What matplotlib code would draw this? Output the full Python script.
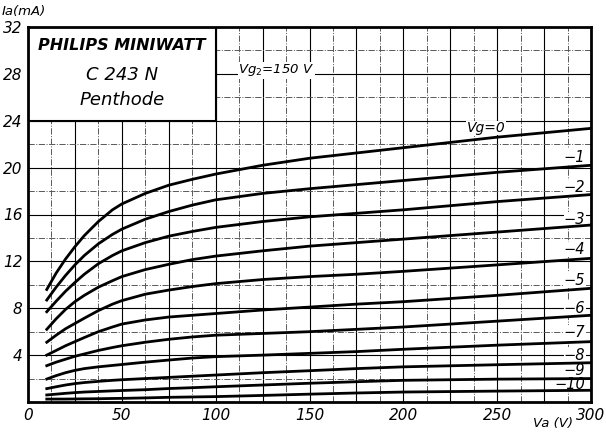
import numpy as np
import matplotlib
matplotlib.use('Agg')
from matplotlib import pyplot as plt

# anode characteristic of the C243N pentode
va = [10, 15, 20, 25, 30, 37.5, 45, 50, 62.5, 75, 87.5, 100, 125, 150, 175, 200, 250, 300]

ia_vg0 = [9.6, 11.0, 12.2, 13.25, 14.2, 15.4, 16.4, 16.9, 17.8, 18.5, 19.0, 19.45, 20.2, 20.8, 21.25, 21.7, 22.6, 23.35]
ia_vg1 = [8.7, 9.8, 10.8, 11.7, 12.5, 13.5, 14.3, 14.75, 15.6, 16.25, 16.8, 17.25, 17.8, 18.2, 18.55, 18.9, 19.6, 20.2]
ia_vg2 = [7.7, 8.6, 9.45, 10.2, 10.9, 11.8, 12.5, 12.9, 13.6, 14.15, 14.55, 14.9, 15.4, 15.8, 16.1, 16.4, 17.1, 17.7]
ia_vg3 = [6.2, 7.1, 7.9, 8.56, 9.1, 9.8, 10.35, 10.7, 11.3, 11.75, 12.15, 12.45, 12.9, 13.3, 13.6, 13.9, 14.5, 15.1]
ia_vg4 = [5.1, 5.7, 6.25, 6.7, 7.15, 7.8, 8.35, 8.65, 9.2, 9.55, 9.85, 10.1, 10.45, 10.7, 10.9, 11.15, 11.7, 12.26]
ia_vg5 = [4.0, 4.4, 4.8, 5.15, 5.5, 6.0, 6.4, 6.65, 7.0, 7.25, 7.4, 7.55, 7.85, 8.1, 8.35, 8.56, 9.1, 9.7]
ia_vg6 = [3.1, 3.4, 3.65, 3.9, 4.1, 4.4, 4.65, 4.8, 5.1, 5.35, 5.55, 5.7, 5.85, 6.0, 6.2, 6.4, 6.9, 7.4]
ia_vg7 = [1.96, 2.25, 2.5, 2.7, 2.85, 3.0, 3.12, 3.2, 3.4, 3.58, 3.75, 3.87, 4.0, 4.15, 4.3, 4.5, 4.85, 5.15]
ia_vg8 = [1.14, 1.3, 1.45, 1.57, 1.66, 1.76, 1.85, 1.9, 2.0, 2.1, 2.2, 2.3, 2.5, 2.67, 2.85, 3.0, 3.18, 3.35]
ia_vg9 = [0.6, 0.67, 0.74, 0.8, 0.85, 0.9, 0.95, 0.98, 1.05, 1.15, 1.22, 1.3, 1.45, 1.6, 1.73, 1.85, 1.95, 2.0]
ia_vg10 = [0.25, 0.25, 0.25, 0.26, 0.27, 0.28, 0.3, 0.31, 0.35, 0.4, 0.43, 0.46, 0.56, 0.67, 0.77, 0.85, 0.93, 1.0]

curves = [ia_vg0, ia_vg1, ia_vg2, ia_vg3, ia_vg4, ia_vg5,
          ia_vg6, ia_vg7, ia_vg8, ia_vg9, ia_vg10]
curve_labels = ['Vg=0', '−1', '−2', '−3', '−4', '−5', '−6', '−7', '−8', '−9', '−10']
label_y = [23.4, 20.9, 18.3, 15.6, 13.0, 10.4, 8.0, 5.9, 4.0, 2.7, 1.5]

xticks = [0, 50, 100, 150, 200, 250, 300]
yticks = [4, 8, 12, 16, 20, 24, 28, 32]

fig = plt.figure(figsize=(6.06, 4.33), dpi=100)
ax = fig.add_axes([28/606, 31/433, 563/606, 375/433])
ax.set_xlim(0, 300)
ax.set_ylim(0, 32)

# grid: solid every 25 V / 4 mA, dash-dot in between
for x in np.arange(12.5, 300, 12.5):
    if x % 25 == 0:
        ax.axvline(x, color='black', lw=0.8, zorder=1)
    else:
        ax.axvline(x, color='0.35', lw=0.7, ls='-.', zorder=1)
for y in np.arange(2, 32, 2):
    if y % 4 == 0:
        ax.axhline(y, color='black', lw=0.8, zorder=1)
    else:
        ax.axhline(y, color='0.35', lw=0.7, ls='-.', zorder=1)

for ia in curves:
    ax.plot(va, ia, color='black', lw=2.0, zorder=3, solid_joinstyle='round')

tfont = dict(family='DejaVu Sans', style='italic', color='black')
ax.text(244, label_y[0], curve_labels[0], fontsize=10, ha='center', va='center',
        zorder=2, bbox=dict(facecolor='white', edgecolor='none', pad=0.2), **tfont)
for lab, y in zip(curve_labels[1:], label_y[1:]):
    ax.text(297, y, lab, fontsize=10.5, ha='right', va='center', zorder=2,
            bbox=dict(facecolor='white', edgecolor='none', pad=0.1), **tfont)

# title box
ax.add_patch(plt.Rectangle((0, 24), 100, 8, facecolor='white', edgecolor='black',
                           lw=1.5, zorder=5))
ax.text(50, 30.4, 'PHILIPS MINIWATT', fontsize=11.5, ha='center', va='center',
        weight='bold', zorder=6, **tfont)
ax.text(50, 27.9, 'C 243 N', fontsize=13, ha='center', va='center', zorder=6, **tfont)
ax.text(50, 25.8, 'Penthode', fontsize=13, ha='center', va='center', zorder=6, **tfont)

ax.text(112, 28.3, 'Vg$_2$=150 V', fontsize=9.5, ha='left', va='center', zorder=6,
        bbox=dict(facecolor='white', edgecolor='none', pad=0.5), **tfont)

ax.set_xticks(xticks)
ax.set_yticks(yticks)
ax.set_xticklabels([str(t) for t in xticks], fontsize=11, style='italic')
ax.set_yticklabels([str(t) for t in yticks], fontsize=11, style='italic')
ax.tick_params(length=0, pad=4)
for s in ax.spines.values():
    s.set_linewidth(2.0)
    s.set_zorder(7)

fig.text(2/606, 1 - 12/433, 'Ia(mA)', fontsize=9.5, ha='left', va='center', **tfont)
fig.text(553/606, 1 - 424/433, 'Va (V)', fontsize=9.5, ha='center', va='center', **tfont)

fig.savefig('out.png', dpi=100)
